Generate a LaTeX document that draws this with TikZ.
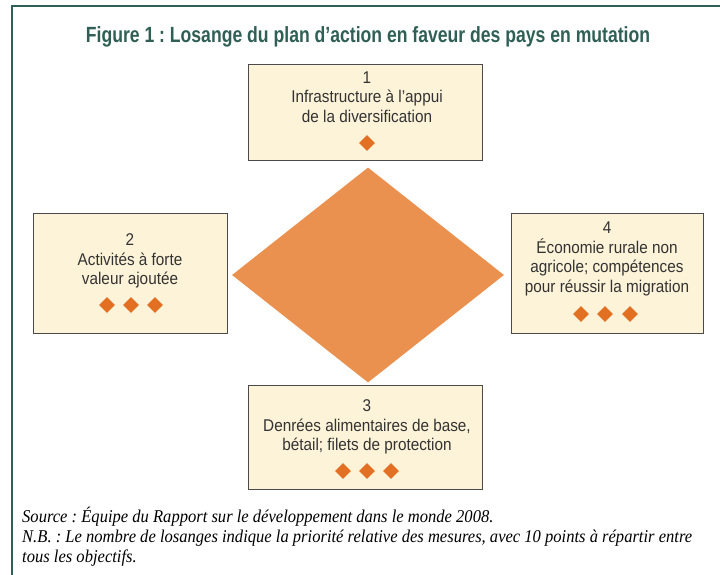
\documentclass[tikz,border=0pt]{standalone}
\usepackage{fontspec}
\setmainfont{Liberation Sans}[FakeStretch=0.9]
\newfontfamily\headfont{Liberation Sans}[FakeStretch=0.8]
\newfontfamily\notefont{Liberation Serif}[FakeStretch=0.92]
\usetikzlibrary{shapes.geometric,positioning}
\frenchspacing

\definecolor{framegreen}{HTML}{2F5F55}
\definecolor{boxfill}{HTML}{FDF3D8}
\definecolor{boxline}{HTML}{4A4A4A}
\definecolor{corefill}{HTML}{EB914F}
\definecolor{pipfill}{HTML}{E27023}
\definecolor{inktext}{HTML}{333333}

\tikzset{
  goalbox/.style={draw=boxline, fill=boxfill, line width=0.9pt, inner sep=0pt},
  goaltext/.style={align=center, text=inktext, inner sep=0pt,
    font=\fontsize{17}{19.5}\selectfont},
  pip/.style={diamond, fill=pipfill, inner sep=0pt, minimum width=16pt, minimum height=16pt},
  notetext/.style={anchor=west, align=left, inner sep=0pt, text=black,
    font=\notefont\itshape\fontsize{18}{20}\selectfont}
}

\begin{document}
\begin{tikzpicture}[x=1pt,y=-1pt]
\useasboundingbox (0,0) rectangle (720,575);
%draw frame
    \draw[framegreen, line width=2.6pt] (12,575) -- (12,6) -- (720,6);
%insert title
    \node[text=framegreen, inner sep=0pt, font=\headfont\bfseries\fontsize{22}{24}\selectfont]
      (title) at (368,37) {Figure 1 : Losange du plan d’action en faveur des pays en mutation};
%draw central diamond
    \node[diamond, fill=corefill, inner sep=0pt, minimum width=272pt, minimum height=215pt]
      (core) at (368,275) {};
%draw goal boxes
    \node[goalbox, minimum width=234pt, minimum height=96pt] (g1) at (365,112) {};
    \node[goalbox, minimum width=194pt, minimum height=120pt] (g2) at (130,273) {};
    \node[goalbox, minimum width=234pt, minimum height=104pt] (g3) at (365,437) {};
    \node[goalbox, minimum width=192pt, minimum height=120pt] (g4) at (607,273) {};
%insert goal labels
    \node[goaltext] (t1) at (367,97) {1\\Infrastructure à l’appui\\de la diversification};
    \node[goaltext] (t2) at (130,261) {2\\Activités à forte\\valeur ajoutée};
    \node[goaltext] (t3) at (367,427) {3\\Denrées alimentaires de base,\\bétail; filets de protection};
    \node[goaltext] (t4) at (607,259) {4\\Économie rurale non\\agricole; compétences\\pour réussir la migration};
%insert priority marks
    \node[pip] (p11) at (367,143) {};
    \foreach \i/\x in {1/107,2/131,3/155}
      \node[pip] (p2\i) at (\x,305) {};
    \foreach \i/\x in {1/343,2/367,3/391}
      \node[pip] (p3\i) at (\x,471) {};
    \foreach \i/\x in {1/581,2/605,3/630}
      \node[pip] (p4\i) at (\x,314) {};
%insert notes
    \node[notetext] (src) at (22,517) {Source : Équipe du Rapport sur le développement dans le monde 2008.};
    \node[notetext, anchor=north west] (nb) at (22,530) {N.B. : Le nombre de losanges indique la priorité relative des mesures, avec 10 points à répartir entre\\tous les objectifs.};
\end{tikzpicture}
\end{document}
